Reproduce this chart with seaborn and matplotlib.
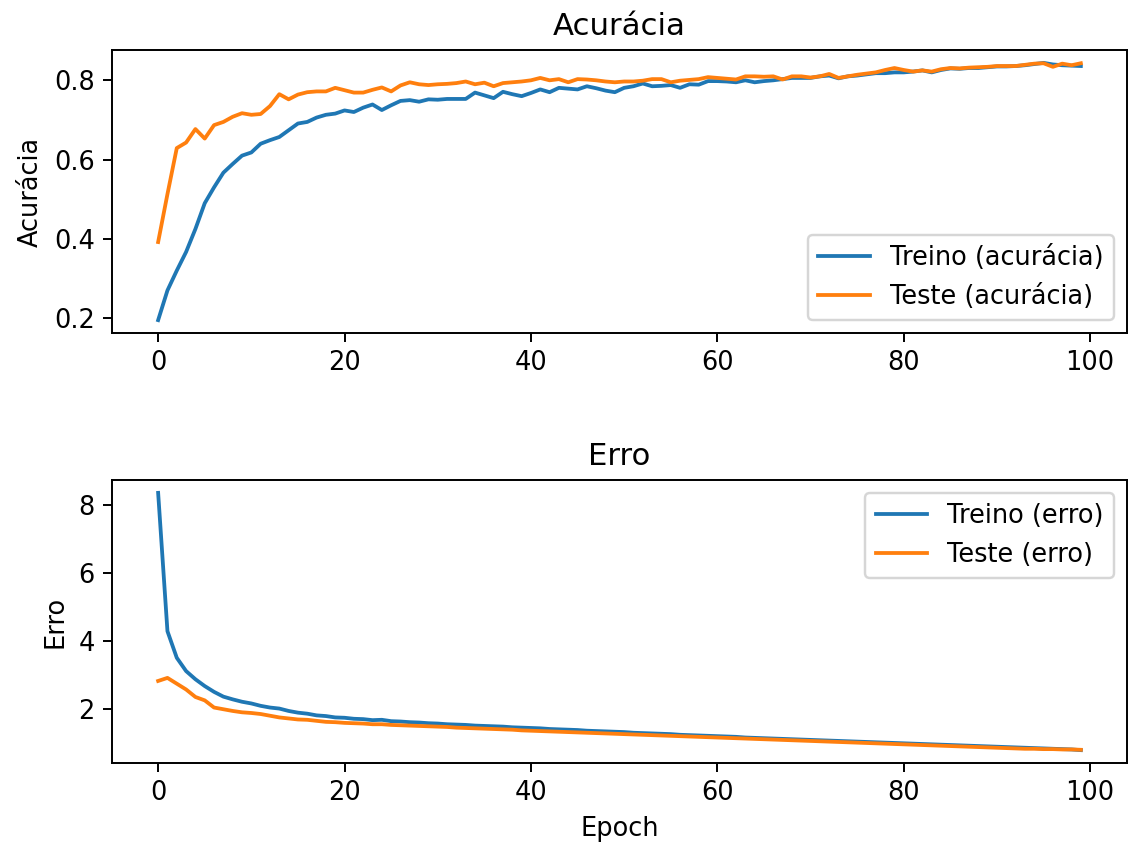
import matplotlib
matplotlib.use("Agg")
import matplotlib.pyplot as plt
import seaborn as sns
import pandas as pd
import numpy as np

epochs = list(range(100))

train_acc = [0.195, 0.27, 0.32, 0.367, 0.425, 0.49, 0.53, 0.567, 0.589, 0.61,
             0.618, 0.64, 0.649, 0.657, 0.674, 0.691, 0.695, 0.706, 0.713, 0.716,
             0.724, 0.72, 0.731, 0.739, 0.725, 0.737, 0.748, 0.75, 0.746, 0.752,
             0.751, 0.753, 0.753, 0.753, 0.769, 0.762, 0.755, 0.771, 0.765, 0.76,
             0.768, 0.777, 0.77, 0.781, 0.779, 0.777, 0.785, 0.78, 0.774, 0.77,
             0.781, 0.785, 0.792, 0.785, 0.786, 0.788, 0.781, 0.79, 0.789, 0.798,
             0.798, 0.797, 0.795, 0.8, 0.795, 0.798, 0.8, 0.803, 0.806, 0.806,
             0.806, 0.81, 0.812, 0.805, 0.81, 0.812, 0.815, 0.818, 0.818, 0.82,
             0.82, 0.822, 0.825, 0.82, 0.826, 0.83, 0.829, 0.831, 0.831, 0.833,
             0.835, 0.835, 0.836, 0.838, 0.841, 0.844, 0.84, 0.838, 0.837, 0.836]

test_acc = [0.392, 0.513, 0.629, 0.643, 0.677, 0.653, 0.687, 0.695, 0.708, 0.717,
            0.713, 0.715, 0.735, 0.765, 0.752, 0.764, 0.77, 0.772, 0.772, 0.781,
            0.775, 0.769, 0.769, 0.776, 0.782, 0.772, 0.787, 0.795, 0.79, 0.788,
            0.79, 0.791, 0.793, 0.797, 0.79, 0.794, 0.785, 0.793, 0.795, 0.797,
            0.8, 0.806, 0.8, 0.803, 0.795, 0.803, 0.802, 0.8, 0.797, 0.795,
            0.797, 0.797, 0.799, 0.803, 0.803, 0.795, 0.799, 0.801, 0.803, 0.808,
            0.806, 0.804, 0.802, 0.81, 0.81, 0.809, 0.81, 0.802, 0.81, 0.81,
            0.807, 0.81, 0.816, 0.806, 0.81, 0.814, 0.817, 0.82, 0.826, 0.831,
            0.826, 0.822, 0.825, 0.822, 0.828, 0.831, 0.83, 0.832, 0.833, 0.834,
            0.836, 0.836, 0.836, 0.839, 0.842, 0.843, 0.834, 0.842, 0.838, 0.843]

train_loss = [8.35, 4.29, 3.51, 3.12, 2.88, 2.68, 2.51, 2.37, 2.29, 2.22,
              2.17, 2.10, 2.05, 2.02, 1.95, 1.90, 1.87, 1.82, 1.80, 1.76,
              1.75, 1.72, 1.71, 1.68, 1.69, 1.65, 1.64, 1.62, 1.61, 1.59,
              1.58, 1.56, 1.55, 1.54, 1.52, 1.51, 1.50, 1.49, 1.47, 1.46,
              1.45, 1.44, 1.42, 1.41, 1.40, 1.39, 1.37, 1.36, 1.35, 1.34,
              1.33, 1.31, 1.30, 1.29, 1.28, 1.27, 1.25, 1.24, 1.23, 1.22,
              1.21, 1.20, 1.19, 1.17, 1.16, 1.15, 1.14, 1.13, 1.12, 1.11,
              1.10, 1.09, 1.08, 1.07, 1.06, 1.05, 1.04, 1.03, 1.02, 1.01,
              1.00, 0.99, 0.98, 0.97, 0.96, 0.95, 0.94, 0.93, 0.92, 0.91,
              0.90, 0.89, 0.88, 0.87, 0.86, 0.85, 0.84, 0.83, 0.82, 0.80]

test_loss = [2.83, 2.92, 2.75, 2.58, 2.36, 2.26, 2.05, 2.00, 1.95, 1.91,
             1.89, 1.86, 1.81, 1.76, 1.73, 1.70, 1.69, 1.66, 1.63, 1.62,
             1.60, 1.59, 1.58, 1.56, 1.56, 1.54, 1.53, 1.52, 1.51, 1.50,
             1.49, 1.48, 1.46, 1.45, 1.44, 1.43, 1.42, 1.41, 1.40, 1.38,
             1.37, 1.36, 1.35, 1.34, 1.33, 1.32, 1.31, 1.30, 1.29, 1.28,
             1.27, 1.26, 1.25, 1.24, 1.23, 1.22, 1.21, 1.20, 1.19, 1.18,
             1.17, 1.16, 1.15, 1.14, 1.13, 1.12, 1.11, 1.10, 1.09, 1.08,
             1.07, 1.06, 1.05, 1.04, 1.03, 1.02, 1.01, 1.00, 0.99, 0.98,
             0.97, 0.96, 0.95, 0.94, 0.93, 0.92, 0.91, 0.90, 0.89, 0.88,
             0.87, 0.86, 0.85, 0.84, 0.84, 0.83, 0.83, 0.82, 0.82, 0.81]

plt.rcParams['font.family'] = ['DejaVu Sans']
plt.rcParams['font.size'] = 10.5
plt.rcParams['lines.linewidth'] = 1.55

dpi = 176
fig = plt.figure(figsize=(1128 / dpi, 844 / dpi), dpi=dpi)

W, H = 1128, 844
ax1 = fig.add_axes([112 / W, 1 - 333 / H, 1015 / W, 283 / H])
ax2 = fig.add_axes([112 / W, 1 - 763 / H, 1015 / W, 283 / H])

sns.lineplot(x=epochs, y=train_acc, ax=ax1, color='#1f77b4', label='Treino (acurácia)')
sns.lineplot(x=epochs, y=test_acc, ax=ax1, color='#ff7f0e', label='Teste (acurácia)')
ax1.set_title('Acurácia')
ax1.set_ylabel('Acurácia')
ax1.set_xticks([0, 20, 40, 60, 80, 100])
ax1.set_yticks([0.2, 0.4, 0.6, 0.8])
ax1.legend(loc='lower right')

sns.lineplot(x=epochs, y=train_loss, ax=ax2, color='#1f77b4', label='Treino (erro)')
sns.lineplot(x=epochs, y=test_loss, ax=ax2, color='#ff7f0e', label='Teste (erro)')
ax2.set_title('Erro')
ax2.set_ylabel('Erro')
ax2.set_xlabel('Epoch')
ax2.set_xticks([0, 20, 40, 60, 80, 100])
ax2.set_yticks([2, 4, 6, 8])
ax2.legend(loc='upper right')

fig.savefig('out.png', dpi=dpi)
